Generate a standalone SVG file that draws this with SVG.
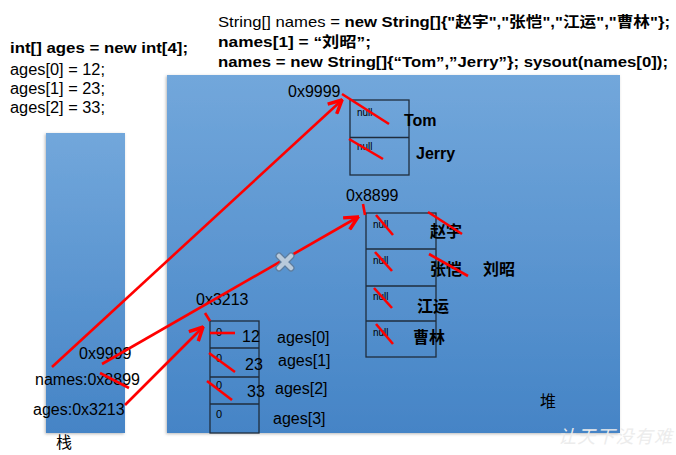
<svg xmlns="http://www.w3.org/2000/svg" width="676" height="455" viewBox="0 0 676 455">
<defs>
<linearGradient id="blue" x1="0" y1="0" x2="0" y2="1">
<stop offset="0" stop-color="#72a7db"/>
<stop offset="1" stop-color="#4584c6"/>
</linearGradient>
<filter id="sh" x="-5%" y="-5%" width="115%" height="115%">
<feDropShadow dx="-1" dy="1" stdDeviation="1.5" flood-color="#888" flood-opacity="0.6"/>
</filter>
<marker id="ah" markerUnits="userSpaceOnUse" markerWidth="16" markerHeight="16" viewBox="0 0 12 12" refX="11" refY="6" orient="auto">
<path d="M1,1 L11,6 L1,11" fill="none" stroke="#ff0000" stroke-width="2.6" stroke-linejoin="miter"/>
</marker>
<style>
text{font-family:"Liberation Sans",Arial,"Noto Sans CJK SC",sans-serif;fill:#000}
.t{font-size:15px}
.m{font-size:16px}
.b{font-weight:bold}
.n{font-size:10px}
.z{font-size:11px}
.cell{fill:none;stroke:#1f2d3d;stroke-width:1.3}
.red{stroke:#ff0000;stroke-width:2.6;fill:none;stroke-linecap:butt}
</style>
</defs>
<rect width="676" height="455" fill="#fff"/>

<g id="code">
<text x="218" y="27" class="t" textLength="452" lengthAdjust="spacingAndGlyphs">String[] names = <tspan class="b">new String[]{"赵宇","张恺","江运","曹林"};</tspan></text>
<text x="218" y="47" class="t b" textLength="153" lengthAdjust="spacingAndGlyphs">names[1] = “刘昭”;</text>
<text x="218" y="67" class="t b" textLength="450" lengthAdjust="spacingAndGlyphs">names = new String[]{“Tom”,”Jerry”}; sysout(names[0]);</text>
<text x="10" y="53" class="t b" textLength="178" lengthAdjust="spacingAndGlyphs">int[] ages = new int[4];</text>
<text x="10" y="75" class="m" textLength="95" lengthAdjust="spacingAndGlyphs">ages[0] = 12;</text>
<text x="10" y="94" class="m" textLength="95" lengthAdjust="spacingAndGlyphs">ages[1] = 23;</text>
<text x="10" y="113" class="m" textLength="95" lengthAdjust="spacingAndGlyphs">ages[2] = 33;</text>
</g>

<g id="stack">
<rect x="46" y="133" width="79" height="300" fill="url(#blue)" filter="url(#sh)"/>
<text x="56" y="448" class="m">栈</text>
</g>

<g id="heap">
<rect x="167" y="75" width="453" height="358" fill="url(#blue)" filter="url(#sh)"/>
<text x="540" y="407" class="m">堆</text>
</g>

<g id="stack-vars">
<text x="79" y="359" class="m">0x9999</text>
<text x="35" y="385" class="m">names:0x8899</text>
<text x="33" y="415" class="m">ages:0x3213</text>
</g>

<g id="arr9999">
<text x="288" y="97" class="m">0x9999</text>
<rect x="350" y="100" width="59" height="75" class="cell"/>
<line x1="350" y1="137.5" x2="409" y2="137.5" class="cell"/>
<text x="357" y="116" class="n">null</text>
<text x="357" y="150" class="n">null</text>
<text x="404" y="126" class="m b">Tom</text>
<text x="416" y="159" class="m b">Jerry</text>
</g>

<g id="arr8899">
<text x="346" y="201" class="m">0x8899</text>
<rect x="366" y="213" width="70" height="144" class="cell"/>
<line x1="366" y1="249" x2="436" y2="249" class="cell"/>
<line x1="366" y1="286" x2="436" y2="286" class="cell"/>
<line x1="366" y1="321" x2="436" y2="321" class="cell"/>
<text x="373" y="228" class="n">null</text>
<text x="373" y="264" class="n">null</text>
<text x="373" y="300" class="n">null</text>
<text x="373" y="336" class="n">null</text>
<text x="430" y="237" class="m b">赵宇</text>
<text x="430" y="275" class="m b">张恺</text>
<text x="483" y="275" class="m b">刘昭</text>
<text x="417" y="312" class="m b">江运</text>
<text x="413" y="343" class="m b">曹林</text>
</g>

<g id="arr3213">
<text x="196" y="305" class="m">0x3213</text>
<rect x="210" y="321" width="49" height="112" class="cell"/>
<line x1="210" y1="348" x2="259" y2="348" class="cell"/>
<line x1="210" y1="377" x2="259" y2="377" class="cell"/>
<line x1="210" y1="404" x2="259" y2="404" class="cell"/>
<text x="216" y="336" class="z">0</text>
<text x="216" y="362" class="z">0</text>
<text x="216" y="389" class="z">0</text>
<text x="216" y="418" class="z">0</text>
<text x="242" y="342" class="m">12</text>
<text x="245" y="370" class="m">23</text>
<text x="247" y="397" class="m">33</text>
<text x="277" y="343" class="m">ages[0]</text>
<text x="278" y="366" class="m">ages[1]</text>
<text x="275" y="394" class="m">ages[2]</text>
<text x="273" y="424" class="m">ages[3]</text>
</g>

<g id="connectors">
<line x1="52" y1="367" x2="342" y2="100" class="red" marker-end="url(#ah)"/>
<line x1="102" y1="364" x2="358" y2="217" class="red" marker-end="url(#ah)"/>
<line x1="125" y1="405" x2="203" y2="327" class="red" marker-end="url(#ah)"/>
<line x1="342" y1="94" x2="389" y2="124" class="red"/>
<line x1="349" y1="139" x2="383" y2="159" class="red"/>
<line x1="363" y1="204" x2="365" y2="215" class="red"/>
<line x1="376" y1="215" x2="393" y2="235" class="red"/>
<line x1="375" y1="252" x2="392" y2="271" class="red"/>
<line x1="374" y1="288" x2="392" y2="308" class="red"/>
<line x1="376" y1="324" x2="393" y2="344" class="red"/>
<line x1="428" y1="212" x2="462" y2="234" class="red"/>
<line x1="429" y1="254" x2="468" y2="276" class="red"/>
<line x1="100" y1="373" x2="129" y2="388" class="red"/>
<line x1="205" y1="313" x2="210" y2="321" class="red"/>
<line x1="210" y1="333" x2="235" y2="333" class="red"/>
<line x1="209" y1="353" x2="235" y2="372" class="red"/>
<line x1="207" y1="381" x2="232" y2="400" class="red"/>
</g>

<g id="cross">
<path d="M279,256 L291,268 M291,256 L279,268" stroke="#5d7d9f" stroke-width="7" stroke-linecap="round"/>
<path d="M279,256 L291,268 M291,256 L279,268" stroke="#b9cadb" stroke-width="4.5" stroke-linecap="round"/>
</g>

<g id="watermark">
<text x="558" y="443" style="font-size:18px;font-style:italic;fill:#ececec" textLength="114">让天下没有难</text>
</g>
</svg>
